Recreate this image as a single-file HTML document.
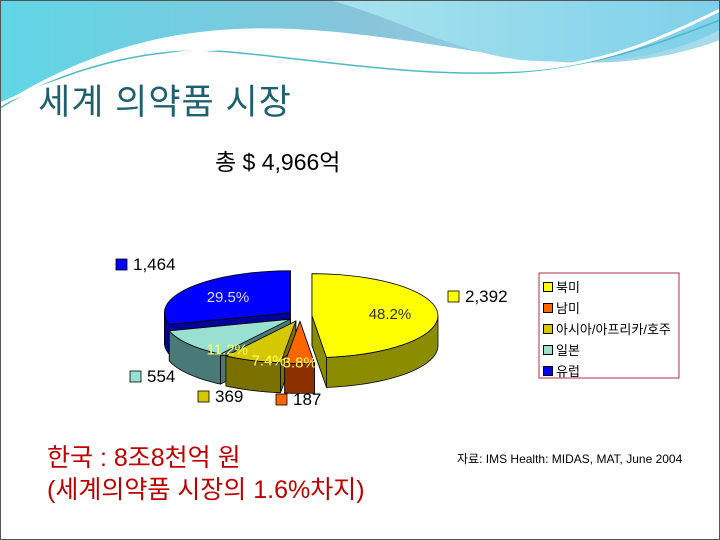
<!DOCTYPE html>
<html><head><meta charset="utf-8">
<style>
html,body{margin:0;padding:0}
body{width:720px;height:540px;position:relative;overflow:hidden;background:#fff;font-family:"Liberation Sans","Noto Sans CJK KR",sans-serif}
.t{position:absolute;white-space:nowrap}
</style></head>
<body>
<svg width="720" height="540" style="position:absolute;left:0;top:0">
  <defs>
    <linearGradient id="g1" x1="0" y1="0" x2="1" y2="0">
      <stop offset="0" stop-color="#5fd6e6"/><stop offset="0.5" stop-color="#86c4da"/><stop offset="1" stop-color="#a9dcea"/>
    </linearGradient>
    <linearGradient id="g2" x1="0" y1="0" x2="1" y2="0">
      <stop offset="0" stop-color="#a8e3ee"/><stop offset="1" stop-color="#7fd0ea"/>
    </linearGradient>
  </defs>
  <g>
    <path d="M0,0 H720 V40 C640,70 560,65 500,55 C400,40 300,20 200,32 C110,42 40,80 0,105 Z" fill="url(#g1)"/>
    <path d="M330,0 H720 V30 C660,60 600,65 520,60 C450,50 400,20 330,0 Z" fill="url(#g2)"/>
    <path d="M0,108 C60,70 150,45 230,52 C320,60 420,78 520,72 C600,66 670,40 720,20" fill="none" stroke="#4fb8c8" stroke-width="1.5"/>
    <path d="M0,104 C70,72 160,50 240,48 C340,48 430,72 520,70 C600,66 660,40 720,10" fill="none" stroke="#ffffff" stroke-width="3"/>
  </g>
  <rect x="0.5" y="0.5" width="719" height="539" fill="none" stroke="#555" stroke-width="1"/>
  <g id="pie"></g>
  <rect x="539" y="273" width="140" height="105" fill="#fff" stroke="#b03040" stroke-width="1"/>
</svg>

<div class="t" style="left:38px;top:74px;font-size:35px;color:#1f6070;letter-spacing:1px">세계 의약품 시장</div>
<div class="t" style="left:215px;top:143px;font-size:23px;color:#000">총 $ 4,966억</div>

<div class="t" style="left:543px;top:277px;font-size:13px;line-height:21px;color:#000">
  <div><span style="display:inline-block;width:8px;height:8px;background:#ffff00;border:1px solid #000;margin-right:3px"></span>북미</div>
  <div><span style="display:inline-block;width:8px;height:8px;background:#ff6600;border:1px solid #000;margin-right:3px"></span>남미</div>
  <div><span style="display:inline-block;width:8px;height:8px;background:#d6c800;border:1px solid #000;margin-right:3px"></span>아시아/아프리카/호주</div>
  <div><span style="display:inline-block;width:8px;height:8px;background:#99e0d0;border:1px solid #000;margin-right:3px"></span>일본</div>
  <div><span style="display:inline-block;width:8px;height:8px;background:#0000ff;border:1px solid #000;margin-right:3px"></span>유럽</div>
</div>

<div class="t" style="left:47px;top:442px;font-size:25px;line-height:32px;color:#c00000">한국 : 8조8천억 원<br>(세계의약품 시장의 1.6%차지)</div>
<div class="t" style="left:457px;top:450px;font-size:12px;color:#000">자료: IMS Health: MIDAS, MAT, June 2004</div>

<script>
const categories = ["북미","남미","아시아/아프리카/호주","일본","유럽"];
const values = [2392, 187, 369, 554, 1464];
const pctLabels = ["48.2%","3.8%","7.4%","11.2%","29.5%"];
const valueLabels = ["2,392","187","369","554","1,464"];
const tops = ["#ffff00","#ff6600","#d6c800","#99e0d0","#0000ff"];
const sides = ["#8c8c00","#8c3000","#7a7000","#4a7a78","#00009a"];
const pctColors = ["#333","#ffff66","#ffff66","#ffff66","#ddddff"];
const labelPos = [[448,302],[276,405],[198,402],[130,382],[116,270]];

const NS="http://www.w3.org/2000/svg";
const g=document.getElementById('pie');
const cx=300, cy=316, rx=126, ry=42, depth=30, ex=12;
const total=values.reduce((a,b)=>a+b,0);
function pt(c,th,r){return [c[0]+rx*r*Math.sin(th), c[1]-ry*r*Math.cos(th)];}
function mk(tag,attrs){const e=document.createElementNS(NS,tag);for(const k in attrs)e.setAttribute(k,attrs[k]);return e;}
let a=0; const slices=[];
values.forEach((v,i)=>{const a1=a, a2=a+v/total*2*Math.PI; a=a2; const m=(a1+a2)/2;
  const c=[cx+ex*Math.sin(m), cy-ex*0.45*Math.cos(m)];
  slices.push({i,a1,a2,m,c});});
slices.slice().sort((p,q)=>(-Math.cos(p.m))-(-Math.cos(q.m))).forEach(s=>{
  const sg=mk('g',{});
  
  
  const c=s.c, cb=[c[0],c[1]+depth];
  [s.a1,s.a2].forEach(th=>{const p=pt(c,th,1), pb=pt(cb,th,1);
    const w=mk('path',{d:`M${c[0]},${c[1]} L${p[0]},${p[1]} L${pb[0]},${pb[1]} L${cb[0]},${cb[1]} Z`,fill:sides[s.i],stroke:'#000','stroke-width':0.8});
    
    
    sg.appendChild(w);});
  const lo=Math.max(s.a1,Math.PI/2), hi=Math.min(s.a2,3*Math.PI/2);
  if(hi>lo){const N=30;let d='';
    for(let k=0;k<=N;k++){const p=pt(c,lo+(hi-lo)*k/N,1);d+=(k?'L':'M')+p[0]+','+p[1];}
    for(let k=N;k>=0;k--){const p=pt(cb,lo+(hi-lo)*k/N,1);d+='L'+p[0]+','+p[1];}
    const w=mk('path',{d:d+'Z',fill:sides[s.i],stroke:'#000','stroke-width':0.8});
    
    
    sg.appendChild(w);}
  const N=40;let d=`M${c[0]},${c[1]}`;
  for(let k=0;k<=N;k++){const p=pt(c,s.a1+(s.a2-s.a1)*k/N,1);d+='L'+p[0]+','+p[1];}
  const t=mk('path',{d:d+'Z',fill:tops[s.i],stroke:'#000','stroke-width':0.8});
  
  
  sg.appendChild(t);
  g.appendChild(sg);
});
slices.forEach(s=>{
  const p=pt(s.c,s.m,0.62);
  const tx=mk('text',{x:p[0],y:p[1]+(Math.cos(s.m)<0?20:5),'font-size':15,'text-anchor':'middle',fill:pctColors[s.i],'font-family':'Liberation Sans, sans-serif'});
  
  
  tx.textContent=pctLabels[s.i]; g.appendChild(tx);
  const lp=labelPos[s.i];
  const r=mk('rect',{x:lp[0],y:lp[1]-11,width:11,height:11,fill:tops[s.i],stroke:'#000','stroke-width':0.8});
  
  
  g.appendChild(r);
  const vt=mk('text',{x:lp[0]+17,y:lp[1],'font-size':17,fill:'#000','font-family':'Liberation Sans, sans-serif'});
  
  
  vt.textContent=valueLabels[s.i]; g.appendChild(vt);
});
</script>
</body></html>
